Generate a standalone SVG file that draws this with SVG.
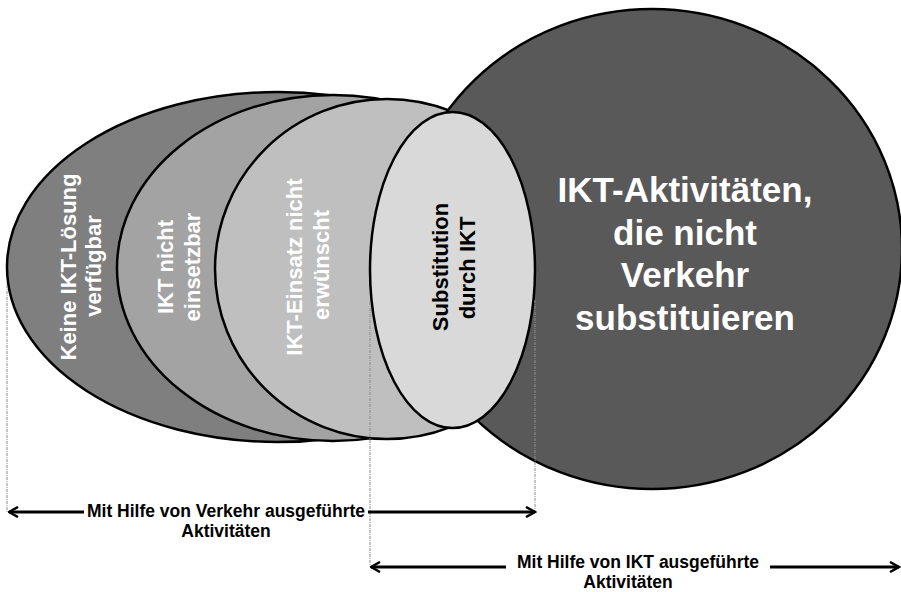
<svg xmlns="http://www.w3.org/2000/svg" width="901" height="592" viewBox="0 0 901 592">
<defs>
<style>
.shape{stroke:#000;stroke-width:2.5}
.lbl{font-family:"Liberation Sans",Arial,sans-serif;font-weight:bold;font-size:22px;text-anchor:middle}
.big{font-family:"Liberation Sans",Arial,sans-serif;font-weight:bold;font-size:35px;text-anchor:middle;fill:#fff}
.cap{font-family:"Liberation Sans",Arial,sans-serif;font-weight:bold;font-size:17.5px;text-anchor:middle;fill:#000}
.guide{stroke:#8c8c8c;stroke-width:1;stroke-dasharray:3 1 1 1;fill:none}
.arr{stroke:#000;stroke-width:3;fill:none}
</style>
<marker id="head" viewBox="0 0 12 12" refX="10.5" refY="6" markerWidth="12" markerHeight="12" markerUnits="userSpaceOnUse" orient="auto-start-reverse">
<path d="M1.5,1 L10.5,6 L1.5,11" fill="none" stroke="#000" stroke-width="2.5"/>
</marker>
</defs>
<rect width="901" height="592" fill="#fff"/>

<g id="node-keine-loesung">
<ellipse class="shape" cx="278" cy="267" rx="271" ry="175" fill="#7f7f7f"/>
<text class="lbl" fill="#fff" transform="translate(76,267) rotate(-90)">Keine IKT-Lösung</text>
<text class="lbl" fill="#fff" transform="translate(101,266) rotate(-90)">verfügbar</text>
</g>

<g id="node-nicht-einsetzbar">
<ellipse class="shape" cx="333" cy="268" rx="216" ry="173" fill="#a3a3a3"/>
<text class="lbl" fill="#fff" transform="translate(173,267) rotate(-90)">IKT nicht</text>
<text class="lbl" fill="#fff" transform="translate(200,267) rotate(-90)">einsetzbar</text>
</g>

<g id="node-nicht-erwuenscht">
<ellipse class="shape" cx="387" cy="269" rx="172" ry="170" fill="#bfbfbf"/>
<text class="lbl" fill="#fff" transform="translate(302,267) rotate(-90)">IKT-Einsatz nicht</text>
<text class="lbl" fill="#fff" transform="translate(329,265) rotate(-90)">erwünscht</text>
</g>

<g id="node-ikt-aktivitaeten">
<ellipse class="shape" cx="652" cy="249" rx="250" ry="240" fill="#595959"/>
<text class="big" x="685" y="202">IKT-Aktivitäten,</text>
<text class="big" x="685" y="245">die nicht</text>
<text class="big" x="685" y="287">Verkehr</text>
<text class="big" x="685" y="330">substituieren</text>
</g>

<g id="node-substitution">
<ellipse class="shape" cx="452.5" cy="270" rx="82.5" ry="158" fill="#d9d9d9"/>
<text class="lbl" fill="#000" transform="translate(448,267) rotate(-90)">Substitution</text>
<text class="lbl" fill="#000" transform="translate(475,268) rotate(-90)">durch IKT</text>
</g>

<g id="connectors">
<line class="guide" x1="7" y1="285" x2="7" y2="512"/>
<line class="guide" x1="370" y1="302" x2="370" y2="567"/>
<line class="guide" x1="535" y1="300" x2="535" y2="512"/>
<path class="arr" d="M9,512 L84,512" marker-start="url(#head)"/>
<path class="arr" d="M368,512 L535,512" marker-end="url(#head)"/>
<path class="arr" d="M371,567 L506,567" marker-start="url(#head)"/>
<path class="arr" d="M770,567 L899,567" marker-end="url(#head)"/>
</g>

<g id="labels">
<text class="cap" x="226" y="517">Mit Hilfe von Verkehr ausgeführte</text>
<text class="cap" x="226" y="537">Aktivitäten</text>
<text class="cap" x="638" y="568">Mit Hilfe von IKT ausgeführte</text>
<text class="cap" x="628" y="588">Aktivitäten</text>
</g>
</svg>
